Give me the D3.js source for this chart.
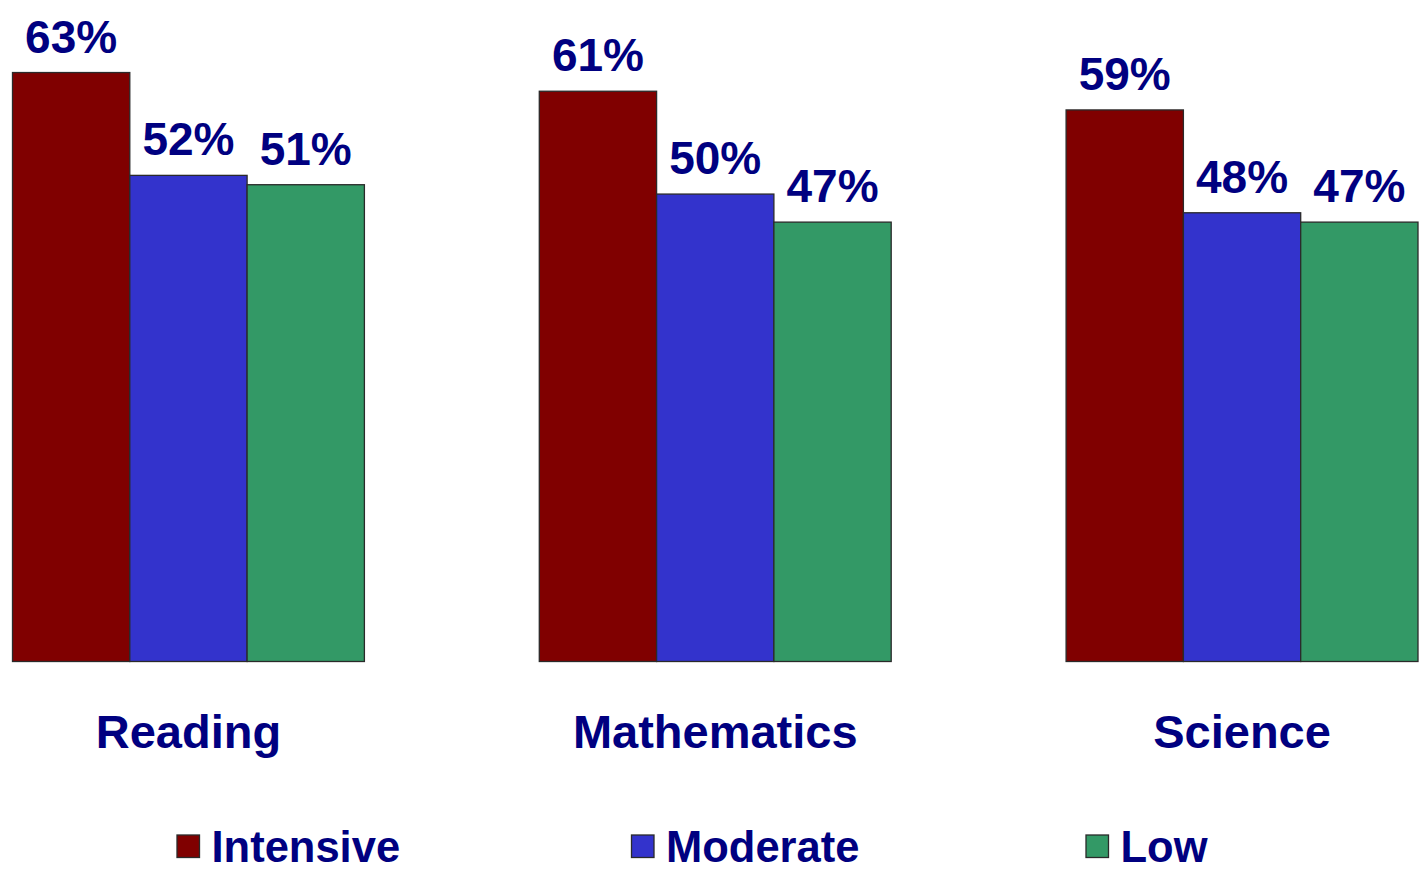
<!DOCTYPE html>
<html>
<head>
<meta charset="utf-8">
<script src="https://cdn.jsdelivr.net/npm/d3@7"></script>
<style>
  html, body { margin: 0; padding: 0; background: #fff; }
  svg { display: block; }
</style>
</head>
<body>
<svg id="chart" width="1422" height="872"></svg>
<script>
const categories = ["Reading", "Mathematics", "Science"];
const seriesNames = ["Intensive", "Moderate", "Low"];
const intensive = [63, 61, 59];
const moderate = [52, 50, 48];
const low = [51, 47, 47];
const seriesColors = ["#800000", "#3333CC", "#339966"];

const seriesValues = [intensive, moderate, low];
const data = categories.map((c, i) => ({
  category: c,
  values: seriesNames.map((s, j) => ({ series: s, value: seriesValues[j][i], idx: j }))
}));

const svg = d3.select("#chart");
const navy = "#000080";
const font = "'Liberation Sans', Arial, sans-serif";

const x0 = d3.scaleBand().domain(categories).range([12.5, 1418]).paddingInner(0.332).paddingOuter(0);
const x1 = d3.scaleBand().domain(seriesNames).range([0, x0.bandwidth()]).padding(0);
const y = d3.scaleLinear().domain([0, 70]).range([661.5, 7.1]);
const color = d3.scaleOrdinal().domain(seriesNames).range(seriesColors);

const groups = svg.append("g").selectAll("g")
  .data(data).join("g")
  .attr("transform", d => `translate(${x0(d.category)},0)`);

groups.selectAll("rect")
  .data(d => d.values).join("rect")
  .attr("x", d => x1(d.series))
  .attr("y", d => y(d.value))
  .attr("width", x1.bandwidth())
  .attr("height", d => y(0) - y(d.value))
  .attr("fill", d => color(d.series))
  .attr("stroke", "#2a2a2a")
  .attr("stroke-width", 1.3);

groups.selectAll("text.val")
  .data(d => d.values).join("text")
  .attr("class", "val")
  .attr("x", d => x1(d.series) + x1.bandwidth() / 2)
  .attr("y", d => y(d.value) - 20)
  .attr("text-anchor", "middle")
  .attr("font-family", font)
  .attr("font-weight", "bold")
  .attr("font-size", 46)
  .attr("fill", navy)
  .text(d => d.value + "%");

// category axis labels
const xAxis = d3.axisBottom(x0).tickSize(0).tickPadding(0);
const axisG = svg.append("g").attr("transform", "translate(0,661.5)").call(xAxis);
axisG.select(".domain").remove();
axisG.selectAll("text")
  .attr("y", 86)
  .attr("dy", 0)
  .attr("font-family", font)
  .attr("font-weight", "bold")
  .attr("font-size", 47)
  .attr("fill", navy);

// legend
const legendX = d3.scalePoint().domain(seriesNames).range([177, 1086]);
const legend = svg.append("g").selectAll("g")
  .data(seriesNames).join("g")
  .attr("transform", d => `translate(${legendX(d)},835)`);
legend.append("rect")
  .attr("width", 22.5).attr("height", 22.5)
  .attr("fill", d => color(d))
  .attr("stroke", "#2a2a2a").attr("stroke-width", 1.3);
legend.append("text")
  .attr("x", 34.5).attr("y", 26.5)
  .attr("font-family", font)
  .attr("font-weight", "bold")
  .attr("font-size", 43.5)
  .attr("fill", navy)
  .text(d => d);
</script>
</body>
</html>
